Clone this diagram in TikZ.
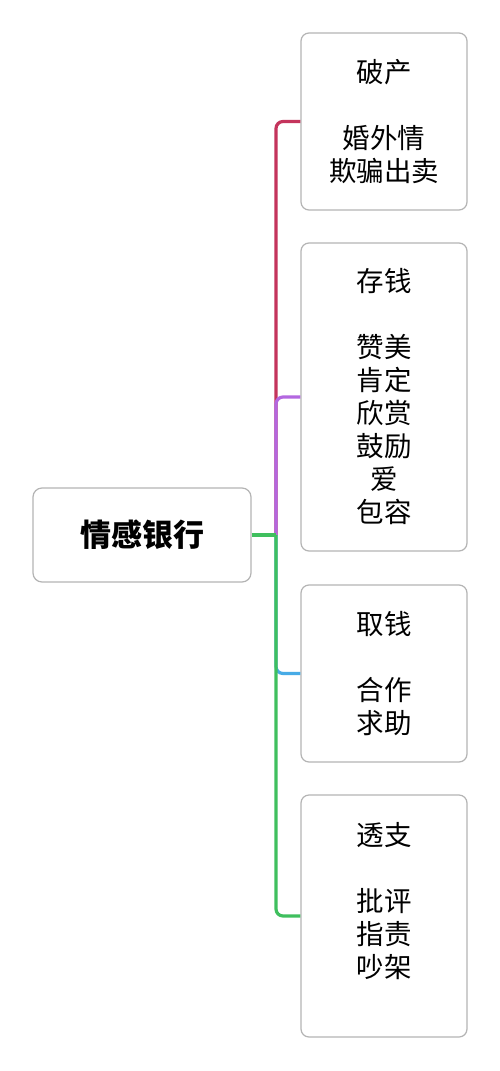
\documentclass[tikz,border=0pt]{standalone}
\usepackage{fontspec}
\newfontfamily\cjk{Noto Sans CJK SC}
\usetikzlibrary{positioning}
\definecolor{BoxGray}     {HTML}{B4B4B4}
\definecolor{BranchRed}   {HTML}{C4345C}
\definecolor{BranchPurple}{HTML}{B367E0}
\definecolor{BranchBlue}  {HTML}{47ABE6}
\definecolor{BranchGreen} {HTML}{3FBF5E}
\tikzset{
  leaf/.style={rectangle,rounded corners=8pt,draw=BoxGray,line width=1.2pt,
               fill=white,minimum width=166pt,minimum height=#1,align=center,
               font=\cjk\fontsize{27.5}{33}\selectfont},
  hub/.style={rectangle,rounded corners=9pt,draw=BoxGray,line width=1.2pt,
              fill=white,minimum width=218pt,minimum height=94pt,
              font=\cjk\bfseries\fontsize{31}{36}\selectfont},
  branch/.style={line width=3.2pt,color=#1,rounded corners=7pt},
}

\begin{document}
\begin{tikzpicture}[x=1pt,y=-1pt]
  \useasboundingbox[fill=white] (0,0) rectangle (500,1071);

  \node[hub] (bank) at (142,535){情感银行};

  \node[leaf=177pt] (bankrupt) at (384,121.5){破产\\[33pt]婚外情\\欺骗出卖};
  \node[leaf=308pt] (deposit) at (384,397){存钱\\[33pt]赞美\\肯定\\欣赏\\鼓励\\爱\\包容};
  \node[leaf=177pt] (withdraw) at (384,673.5){取钱\\[33pt]合作\\求助};
  \node[leaf=242pt] (overdraft) at (384,916){透支\\[33pt]批评\\指责\\吵架\\\mbox{}};

  \coordinate (fork) at (276,535);

  \draw[branch=BranchRed]    (fork) |- (bankrupt.west);
  \draw[branch=BranchPurple] (fork) |- (deposit.west);
  \draw[branch=BranchBlue]   (fork) |- (withdraw.west);
  \draw[branch=BranchGreen]  (fork) |- (overdraft.west);
  \draw[branch=BranchGreen]  (bank.east) -- (fork);

\end{tikzpicture}
\end{document}
